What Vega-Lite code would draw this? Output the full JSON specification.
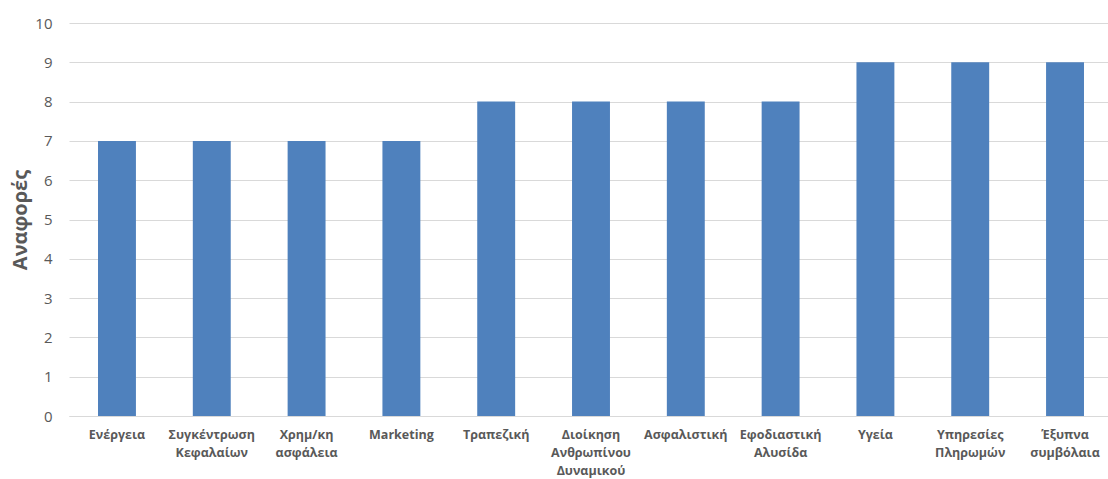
{
  "$schema": "https://vega.github.io/schema/vega-lite/v6.json",
  "autosize": "none",
  "width": 1039,
  "height": 393,
  "padding": {"left": 69, "top": 23, "right": 0, "bottom": 63},
  "background": "white",
  "data": {
    "values": [
      {"category": "Ενέργεια", "value": 7},
      {"category": "Συγκέντρωση|Κεφαλαίων", "value": 7},
      {"category": "Χρημ/κη|ασφάλεια", "value": 7},
      {"category": "Marketing", "value": 7},
      {"category": "Τραπεζική", "value": 8},
      {"category": "Διοίκηση|Ανθρωπίνου|Δυναμικού", "value": 8},
      {"category": "Ασφαλιστική", "value": 8},
      {"category": "Εφοδιαστική|Αλυσίδα", "value": 8},
      {"category": "Υγεία", "value": 9},
      {"category": "Υπηρεσίες|Πληρωμών", "value": 9},
      {"category": "Έξυπνα|συμβόλαια", "value": 9}
    ]
  },
  "config": {
    "view": {"stroke": null},
    "font": "Open Sans"
  },
  "mark": {"type": "bar", "color": "#4F81BD"},
  "encoding": {
    "x": {
      "field": "category",
      "type": "nominal",
      "sort": null,
      "scale": {"paddingInner": 0.6, "paddingOuter": 0.306, "range": [0, 1044]},
      "axis": {
        "title": null,
        "labelAngle": 0,
        "labelExpr": "split(datum.label, '|')",
        "labelFont": "Open Sans",
        "labelFontSize": 12.5,
        "labelFontWeight": "bold",
        "labelColor": "#595959",
        "labelPadding": 12,
        "labelLineHeight": 18,
        "ticks": false,
        "domain": true,
        "domainColor": "#d9d9d9",
        "domainWidth": 1
      }
    },
    "y": {
      "field": "value",
      "type": "quantitative",
      "scale": {"domain": [0, 10], "nice": false},
      "axis": {
        "title": "Αναφορές",
        "titleFont": "Open Sans",
        "titleFontSize": 20,
        "titleFontWeight": "bold",
        "titleColor": "#595959",
        "titlePadding": 4,
        "values": [0,1,2,3,4,5,6,7,8,9,10],
        "labelFont": "Open Sans",
        "labelFontSize": 15,
        "labelColor": "#595959",
        "labelPadding": 17,
        "ticks": false,
        "domain": false,
        "grid": true,
        "gridColor": "#d9d9d9",
        "gridWidth": 1
      }
    }
  }
}
